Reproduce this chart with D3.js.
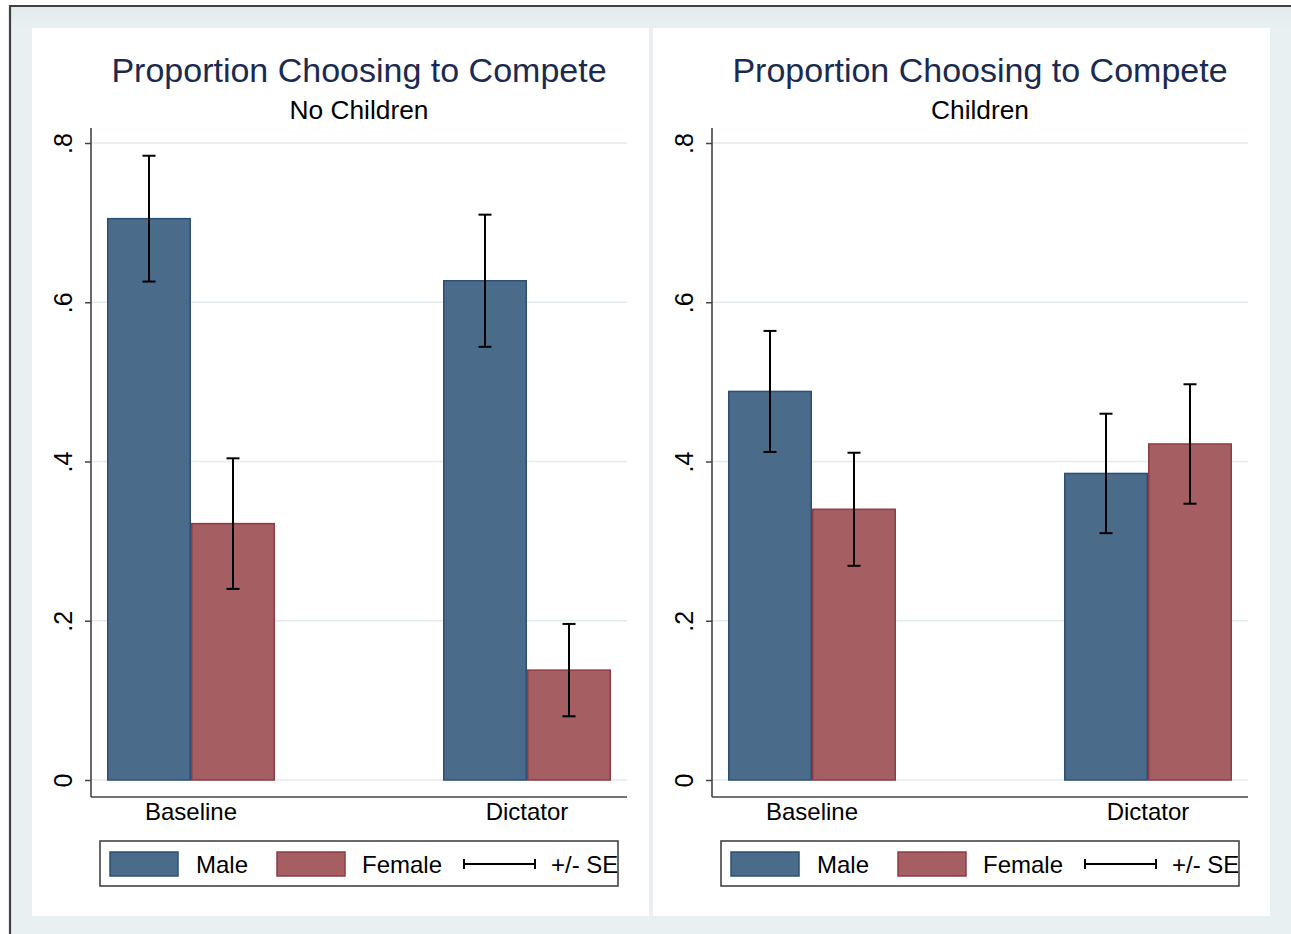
<!DOCTYPE html>
<html>
<head>
<meta charset="utf-8">
<script src="https://cdn.jsdelivr.net/npm/d3@7"></script>
<style>
  html, body { margin: 0; padding: 0; background: #ffffff; }
  svg { display: block; font-family: "Liberation Sans", Arial, Helvetica, sans-serif; }
</style>
</head>
<body>
<svg id="chart" width="1291" height="934"></svg>
<script>
// Categories and groups
const categories = ["Baseline", "Dictator"];
const groups = ["Male", "Female"];

// Proportion choosing to compete, no children
const noChildMale = [0.705, 0.627];
const noChildFemale = [0.322, 0.138];
const noChildMaleSE = [0.079, 0.083];
const noChildFemaleSE = [0.082, 0.058];

// Proportion choosing to compete, children
const childMale = [0.488, 0.385];
const childFemale = [0.340, 0.422];
const childMaleSE = [0.076, 0.075];
const childFemaleSE = [0.071, 0.075];

// Y axis ticks
const yTicks = [0, 0.2, 0.4, 0.6, 0.8];
const yTickLabels = ["0", ".2", ".4", ".6", ".8"];

const panelTitle = "Proportion Choosing to Compete";
const panelSubtitles = ["No Children", "Children"];
const legendSE = "+/- SE";

const colors = {
  Male:   { fill: "#4a6b8a", stroke: "#2b5075" },
  Female: { fill: "#a55e62", stroke: "#8f3d44" }
};

const svg = d3.select("#chart");

// Graph region background and border
const defs = svg.append("defs");
const shade = defs.append("linearGradient").attr("id", "bgshade")
  .attr("x1", 0).attr("x2", 0).attr("y1", 0).attr("y2", 1);
shade.append("stop").attr("offset", "0").attr("stop-color", "#e2eaec");
shade.append("stop").attr("offset", "0.025").attr("stop-color", "#e9f0f2");
shade.append("stop").attr("offset", "1").attr("stop-color", "#e9f0f2");
svg.append("rect").attr("x", 10).attr("y", 6).attr("width", 1281).attr("height", 928)
  .attr("fill", "url(#bgshade)");
svg.append("path").attr("d", "M10,934 V6 H1291")
  .attr("fill", "none").attr("stroke", "#3f4244").attr("stroke-width", 2.2);

// Shared scales (panel-local coordinates)
const plotLeft = 91, plotRight = 627, plotTop = 128, plotBottom = 797;
const y = d3.scaleLinear().domain([0, 0.8]).range([780, 143]);
const x = d3.scaleBand().domain(categories).range([plotLeft, plotRight])
  .paddingInner(0.5).paddingOuter(0.0476);
const xg = d3.scaleBand().domain(groups).range([0, x.bandwidth()]);

function drawPanel(offsetX, subtitle, male, female, maleSE, femaleSE) {
  const g = svg.append("g").attr("transform", `translate(${offsetX},0)`);

  // white plot panel
  g.append("rect").attr("x", 32).attr("y", 28).attr("width", 617).attr("height", 888)
    .attr("fill", "#ffffff");

  // titles
  const cx = (plotLeft + plotRight) / 2;
  g.append("text").attr("x", cx).attr("y", 82).attr("text-anchor", "middle")
    .attr("font-size", 34).attr("fill", "#1b2a50").text(panelTitle);
  g.append("text").attr("x", cx).attr("y", 119).attr("text-anchor", "middle")
    .attr("font-size", 26.3).attr("fill", "#000").text(subtitle);

  // gridlines
  g.append("g").selectAll("line").data(yTicks).join("line")
    .attr("x1", plotLeft).attr("x2", plotRight)
    .attr("y1", d => y(d)).attr("y2", d => y(d))
    .attr("stroke", "#e3ebee").attr("stroke-width", 1.6);

  // bars
  const rows = categories.map((c, i) => [
    { cat: c, grp: "Male", v: male[i], se: maleSE[i] },
    { cat: c, grp: "Female", v: female[i], se: femaleSE[i] }
  ]).flat();

  g.append("g").selectAll("rect").data(rows).join("rect")
    .attr("x", d => x(d.cat) + xg(d.grp) + 0.75)
    .attr("width", xg.bandwidth() - 1.5)
    .attr("y", d => y(d.v))
    .attr("height", d => y(0) - y(d.v))
    .attr("fill", d => colors[d.grp].fill)
    .attr("stroke", d => colors[d.grp].stroke)
    .attr("stroke-width", 1.5);

  // error bars
  const eb = g.append("g").selectAll("g").data(rows).join("g")
    .attr("transform", d => `translate(${x(d.cat) + xg(d.grp) + xg.bandwidth() / 2},0)`)
    .attr("stroke", "#000").attr("stroke-width", 2);
  eb.append("line").attr("y1", d => y(d.v + d.se)).attr("y2", d => y(d.v - d.se));
  eb.append("line").attr("x1", -6.5).attr("x2", 6.5)
    .attr("y1", d => y(d.v + d.se)).attr("y2", d => y(d.v + d.se));
  eb.append("line").attr("x1", -6.5).attr("x2", 6.5)
    .attr("y1", d => y(d.v - d.se)).attr("y2", d => y(d.v - d.se));

  // y axis
  const yAxis = g.append("g").attr("transform", `translate(${plotLeft},0)`)
    .call(d3.axisLeft(y).tickValues(yTicks).tickSize(6).tickPadding(0)
      .tickFormat((d, i) => yTickLabels[i]));
  yAxis.select(".domain").remove();
  yAxis.selectAll(".tick line").attr("stroke", "#444").attr("stroke-width", 1.5);
  yAxis.selectAll(".tick text")
    .attr("font-size", 25).attr("fill", "#000")
    .attr("text-anchor", "middle").attr("x", null).attr("dy", null)
    .attr("transform", "translate(-19,0) rotate(-90)");
  g.append("line").attr("x1", plotLeft).attr("x2", plotLeft)
    .attr("y1", plotTop).attr("y2", plotBottom)
    .attr("stroke", "#444").attr("stroke-width", 1.6);

  // x axis
  const xAxis = g.append("g").attr("transform", `translate(0,${plotBottom})`)
    .call(d3.axisBottom(x).tickSize(0).tickPadding(23));
  xAxis.select(".domain").remove();
  xAxis.selectAll(".tick text").attr("font-size", 24).attr("fill", "#000").attr("dy", 0);
  g.append("line").attr("x1", plotLeft).attr("x2", plotRight)
    .attr("y1", plotBottom).attr("y2", plotBottom)
    .attr("stroke", "#444").attr("stroke-width", 1.6);

  // legend
  const lg = g.append("g").attr("transform", "translate(100,841)");
  const clipId = "legclip" + offsetX;
  lg.append("clipPath").attr("id", clipId).append("rect")
    .attr("x", 0).attr("y", 0).attr("width", 518).attr("height", 45);
  const inner = lg.append("g").attr("clip-path", `url(#${clipId})`);
  const swatchX = [10, 177];
  const textX = [96, 262];
  groups.forEach((grp, i) => {
    inner.append("rect").attr("x", swatchX[i]).attr("y", 11).attr("width", 68).attr("height", 24)
      .attr("fill", colors[grp].fill).attr("stroke", colors[grp].stroke).attr("stroke-width", 1.5);
    inner.append("text").attr("x", textX[i]).attr("y", 32).attr("font-size", 24)
      .attr("fill", "#000").text(grp);
  });
  const se = inner.append("g").attr("stroke", "#000").attr("stroke-width", 2);
  se.append("line").attr("x1", 363).attr("x2", 436).attr("y1", 23).attr("y2", 23);
  se.append("line").attr("x1", 364).attr("x2", 364).attr("y1", 18).attr("y2", 28);
  se.append("line").attr("x1", 435).attr("x2", 435).attr("y1", 18).attr("y2", 28);
  inner.append("text").attr("x", 451).attr("y", 32).attr("font-size", 24)
    .attr("fill", "#000").text(legendSE);
  lg.append("rect").attr("x", 0).attr("y", 0).attr("width", 518).attr("height", 45)
    .attr("fill", "none").attr("stroke", "#444").attr("stroke-width", 1.6);
}

drawPanel(0, panelSubtitles[0], noChildMale, noChildFemale, noChildMaleSE, noChildFemaleSE);
drawPanel(621, panelSubtitles[1], childMale, childFemale, childMaleSE, childFemaleSE);
</script>
</body>
</html>
